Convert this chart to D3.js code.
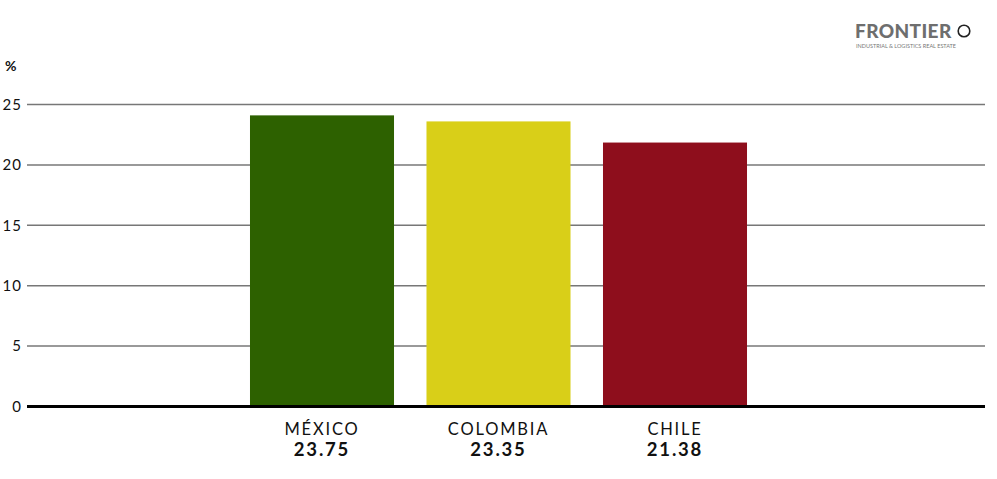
<!DOCTYPE html>
<html><head><meta charset="utf-8">
<script src="https://cdn.jsdelivr.net/npm/d3@7"></script>
<style>
html,body{margin:0;padding:0;background:#fff;}
svg text{font-family:"Lato","Open Sans",sans-serif;}
</style></head>
<body><svg id="c" width="997" height="479"></svg>
<script>
const categories = ["MÉXICO", "COLOMBIA", "CHILE"];
const valueLabels = ["23.75", "23.35", "21.38"];
const barValues = [24.1, 23.6, 21.85];
const colors = ["#2d6100", "#d9cf18", "#8e0e1c"];
const yTicks = [0, 5, 10, 15, 20, 25];

const svg = d3.select("#c");
const plotLeft = 27, plotRight = 985, plotTop = 104.5, plotBottom = 406.5;

const y = d3.scaleLinear().domain([0, 25]).range([plotBottom, plotTop]);
const x = d3.scaleBand().domain(categories).range([233.75, 763.25]).paddingInner(0.184).paddingOuter(0.092);

// gridlines
svg.append("g").selectAll("line").data(yTicks.filter(d => d > 0)).join("line")
  .attr("x1", plotLeft).attr("x2", plotRight)
  .attr("y1", d => y(d)).attr("y2", d => y(d))
  .attr("stroke", "#777").attr("stroke-width", 1.5);

// tick labels
svg.append("g").selectAll("text").data(yTicks).join("text")
  .attr("x", 22).attr("y", d => y(d)).attr("dy", "0.35em")
  .attr("text-anchor", "end").attr("font-size", 15).attr("letter-spacing", 1).attr("fill", "#111")
  .text(d => d);

svg.append("text").attr("x", 5).attr("y", 71).attr("font-size", 14).attr("font-weight", "bold").attr("fill", "#111").text("%");

// bars
svg.append("g").selectAll("rect").data(categories).join("rect")
  .attr("x", d => x(d)).attr("width", x.bandwidth())
  .attr("y", (d, i) => y(barValues[i])).attr("height", (d, i) => y(0) - 1.5 - y(barValues[i]))
  .attr("fill", (d, i) => colors[i]);

// zero line
svg.append("line").attr("x1", plotLeft).attr("x2", plotRight).attr("y1", y(0)).attr("y2", y(0))
  .attr("stroke", "#000").attr("stroke-width", 3);

// category labels
svg.append("g").selectAll("text").data(categories).join("text")
  .attr("x", d => x(d) + x.bandwidth() / 2).attr("y", 435)
  .attr("text-anchor", "middle").attr("font-size", 16.5).attr("letter-spacing", 1.8).attr("fill", "#111")
  .text(d => d);

svg.append("g").selectAll("text").data(categories).join("text")
  .attr("x", d => x(d) + x.bandwidth() / 2).attr("y", 456)
  .attr("text-anchor", "middle").attr("font-size", 18.5).attr("font-weight", "bold").attr("letter-spacing", 1.8).attr("fill", "#111")
  .text((d, i) => valueLabels[i]);

// logo
svg.append("text").attr("x", 855).attr("y", 37.5).attr("font-size", 19).attr("font-weight", "900").attr("fill", "#6e6e6e").attr("letter-spacing", 0.4).text("FRONTIER");
svg.append("circle").attr("cx", 964).attr("cy", 31).attr("r", 5.8).attr("fill", "none").attr("stroke", "#222").attr("stroke-width", 1.6);
svg.append("text").attr("x", 856).attr("y", 47.5).attr("font-size", 5.5).attr("fill", "#777").attr("textLength", 100).text("INDUSTRIAL & LOGISTICS REAL ESTATE");
</script></body></html>
